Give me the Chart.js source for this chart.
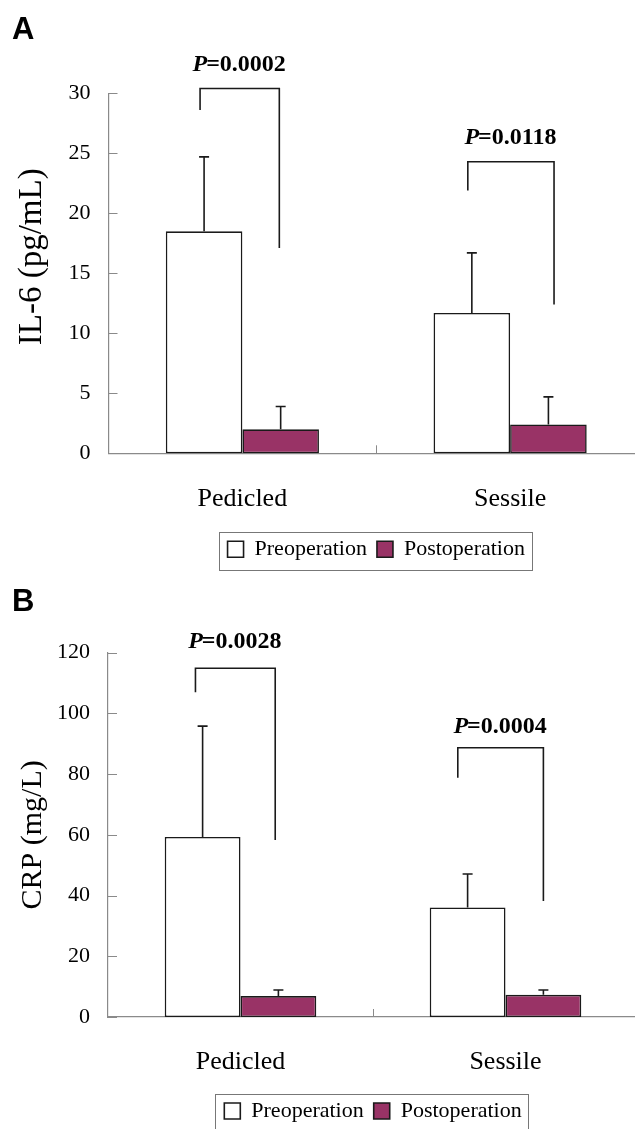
<!DOCTYPE html>
<html><head><meta charset="utf-8">
<script src="https://cdn.jsdelivr.net/npm/chart.js@4.4.0/dist/chart.umd.min.js"></script>
<style>
html,body{margin:0;padding:0;background:#fff;overflow:hidden;width:635px;height:1129px;position:relative;}
#wrapA{position:absolute;left:0;top:0;width:646px;height:580px;}
#wrapB{position:absolute;left:0;top:580px;width:640px;height:560px;}
.panel{position:absolute;left:12px;font:bold 31px 'Liberation Sans',sans-serif;line-height:31px;color:#000;}
</style></head><body>
<div id="wrapA"><canvas id="cA" width="646" height="580" style="width:646px;height:580px"></canvas></div>
<div id="wrapB"><canvas id="cB" width="640" height="560" style="width:640px;height:560px"></canvas></div>
<div class="panel" style="top:13px">A</div>
<div class="panel" style="top:585px">B</div>
<script>
// ---------- data ----------
const categories = ['Pedicled', 'Sessile'];
const seriesNames = ['Preoperation', 'Postoperation'];

const il6Pre = [18.5, 11.7];
const il6PreSD = [6.2, 5.0];
const il6Post = [2.0, 2.4];
const il6PostSD = [1.9, 2.3];

const crpPre = [59.3, 36.1];
const crpPreSD = [36.5, 11.0];
const crpPost = [6.9, 7.3];
const crpPostSD = [2.0, 1.6];

const il6Axis = {min: 0, max: 30, step: 5, title: '\u2002\u2002IL-6 (pg/mL)'};
const crpAxis = {min: 0, max: 120, step: 20, title: 'CRP (mg/L)'};

const il6PValues = ['0.0002', '0.0118'];
const crpPValues = ['0.0028', '0.0004'];

// significance brackets (data units): top, left end, right end, label level
const il6BracketTop = [30.4, 24.3];
const il6BracketLeftEnd = [28.6, 21.9];
const il6BracketRightEnd = [17.1, 12.4];
const il6LabelLevel = [32.4, 26.3];
const crpBracketTop = [114.9, 88.7];
const crpBracketLeftEnd = [107.0, 78.8];
const crpBracketRightEnd = [58.3, 38.2];
const crpLabelLevel = [123.5, 95.6];

// ---------- styles ----------
const SERIF = "'Liberation Serif', 'Times New Roman', serif";
const AXIS_COLOR = '#8a8a8a';
const INK = '#1a1a1a';
const POST_COLOR = '#993366';

const errorBarPlugin = {
  id: 'errbars',
  afterDatasetsDraw(chart, args, opts) {
    const ctx = chart.ctx, y = chart.scales.y;
    opts.sd.forEach((sdArr, di) => {
      const meta = chart.getDatasetMeta(di);
      meta.data.forEach((bar, i) => {
        const v = chart.data.datasets[di].data[i];
        const yTop = y.getPixelForValue(v + sdArr[i]);
        ctx.save();
        ctx.strokeStyle = INK; ctx.lineWidth = 1.6;
        ctx.beginPath();
        ctx.moveTo(bar.x, bar.y); ctx.lineTo(bar.x, yTop);
        ctx.moveTo(bar.x - 5, yTop); ctx.lineTo(bar.x + 5, yTop);
        ctx.stroke(); ctx.restore();
      });
    });
  }
};

const bracketPlugin = {
  id: 'brackets',
  afterDraw(chart, args, o) {
    const ctx = chart.ctx, x = chart.scales.x, y = chart.scales.y;
    const step = x.getPixelForValue(1) - x.getPixelForValue(0);
    o.top.forEach((t, i) => {
      const c = x.getPixelForValue(i);
      const xl = c + o.leftOff[i] * step, xr = c + o.rightOff[i] * step;
      ctx.save();
      ctx.strokeStyle = INK; ctx.lineWidth = 1.6;
      ctx.beginPath();
      ctx.moveTo(xl, y.getPixelForValue(o.leftEnd[i]));
      ctx.lineTo(xl, y.getPixelForValue(t));
      ctx.lineTo(xr, y.getPixelForValue(t));
      ctx.lineTo(xr, y.getPixelForValue(o.rightEnd[i]));
      ctx.stroke();
      // label
      const fP = 'italic bold 24px ' + SERIF, fR = 'bold 24px ' + SERIF;
      const rest = '=' + o.pvals[i];
      ctx.font = fP; const wP = ctx.measureText('P').width;
      ctx.font = fR; const wR = ctx.measureText(rest).width;
      const cx = (xl + xr) / 2, ly = y.getPixelForValue(o.level[i]);
      let sx = cx - (wP + wR) / 2;
      ctx.fillStyle = '#000'; ctx.textBaseline = 'middle'; ctx.textAlign = 'left';
      ctx.font = fP; ctx.fillText('P', sx, ly);
      ctx.font = fR; ctx.fillText(rest, sx + wP - 1, ly);
      ctx.restore();
    });
  }
};

const innerTicksPlugin = {
  id: 'innerTicks',
  afterDraw(chart) {
    const ctx = chart.ctx, x = chart.scales.x, y = chart.scales.y, ca = chart.chartArea;
    ctx.save();
    ctx.strokeStyle = AXIS_COLOR; ctx.lineWidth = 1;
    ctx.beginPath();
    y.ticks.forEach(t => {
      const py = Math.round(y.getPixelForValue(t.value)) + 0.5;
      ctx.moveTo(ca.left, py); ctx.lineTo(ca.left + 9, py);
    });
    const step = x.getPixelForValue(1) - x.getPixelForValue(0);
    for (let i = 0; i < categories.length; i++) {
      const bx = Math.round(x.getPixelForValue(i) + step / 2) + 0.5;
      ctx.moveTo(bx, ca.bottom); ctx.lineTo(bx, ca.bottom - 8);
    }
    ctx.stroke();
    ctx.restore();
  }
};

const legendBoxPlugin = {
  id: 'legendBox',
  afterDraw(chart) {
    const hb = chart.legend && chart.legend.legendHitBoxes;
    if (!hb || !hb.length) return;
    const ctx = chart.ctx;
    const left = Math.min(...hb.map(h => h.left)) - 9;
    const right = Math.max(...hb.map(h => h.left + h.width)) + 7;
    const top = hb[0].top - 6, bottom = hb[0].top + hb[0].height + 10;
    ctx.save();
    ctx.strokeStyle = '#777'; ctx.lineWidth = 1;
    ctx.strokeRect(Math.round(left) + 0.5, Math.round(top) + 0.5, Math.round(right - left), Math.round(bottom - top));
    ctx.restore();
  }
};

function makeChart(canvasId, pre, post, preSD, postSD, axis, br, lay) {
  return new Chart(document.getElementById(canvasId), {
    type: 'bar',
    data: {
      labels: categories,
      datasets: [
        {label: seriesNames[0], data: pre, backgroundColor: '#ffffff', borderColor: INK, borderWidth: 1.6, borderSkipped: false},
        {label: seriesNames[1], data: post, backgroundColor: POST_COLOR, borderColor: INK, borderWidth: 1.6, borderSkipped: false}
      ]
    },
    options: {
      responsive: false,
      animation: false,
      layout: {padding: {top: lay.top, left: 0, right: 2, bottom: lay.bottom}},
      datasets: {bar: {categoryPercentage: 0.572, barPercentage: 1}},
      scales: {
        x: {
          grid: {display: false, drawTicks: false},
          border: {display: true, color: AXIS_COLOR, width: 1.2},
          ticks: {color: '#000', font: {family: SERIF, size: 26}, padding: 30},
          afterFit: s => { s.height = lay.xh; }
        },
        y: {
          min: axis.min, max: axis.max,
          grid: {display: false, drawTicks: false},
          border: {display: true, color: AXIS_COLOR, width: 1.2},
          ticks: {stepSize: axis.step, color: '#000', font: {family: SERIF, size: 22}, padding: 18},
          title: {display: true, text: axis.title, color: '#000', font: {family: SERIF, size: lay.tf}, padding: {top: lay.tp, bottom: 0}},
          afterFit: s => { s.width = lay.yw; }
        }
      },
      plugins: {
        legend: {
          position: 'bottom', fullSize: false,
          labels: {color: '#000', font: {family: SERIF, size: 22}, boxWidth: 16, boxHeight: 16, padding: 10}
        },
        tooltip: {enabled: false},
        errbars: {sd: [preSD, postSD]},
        brackets: br
      }
    },
    plugins: [errorBarPlugin, bracketPlugin, innerTicksPlugin, legendBoxPlugin]
  });
}

makeChart('cA', il6Pre, il6Post, il6PreSD, il6PostSD, il6Axis, {
  top: il6BracketTop, leftEnd: il6BracketLeftEnd, rightEnd: il6BracketRightEnd, level: il6LabelLevel,
  pvals: il6PValues, leftOff: [-0.158, -0.158], rightOff: [0.138, 0.164]
}, {top: 93.3, bottom: 9.7, xh: 75, yw: 108.5, tf: 33, tp: 13});

makeChart('cB', crpPre, crpPost, crpPreSD, crpPostSD, crpAxis, {
  top: crpBracketTop, leftEnd: crpBracketLeftEnd, rightEnd: crpBracketRightEnd, level: crpLabelLevel,
  pvals: crpPValues, leftOff: [-0.17, -0.18], rightOff: [0.131, 0.143]
}, {top: 72.7, bottom: 8, xh: 73, yw: 108, tf: 30, tp: 15});
</script>
</body></html>
